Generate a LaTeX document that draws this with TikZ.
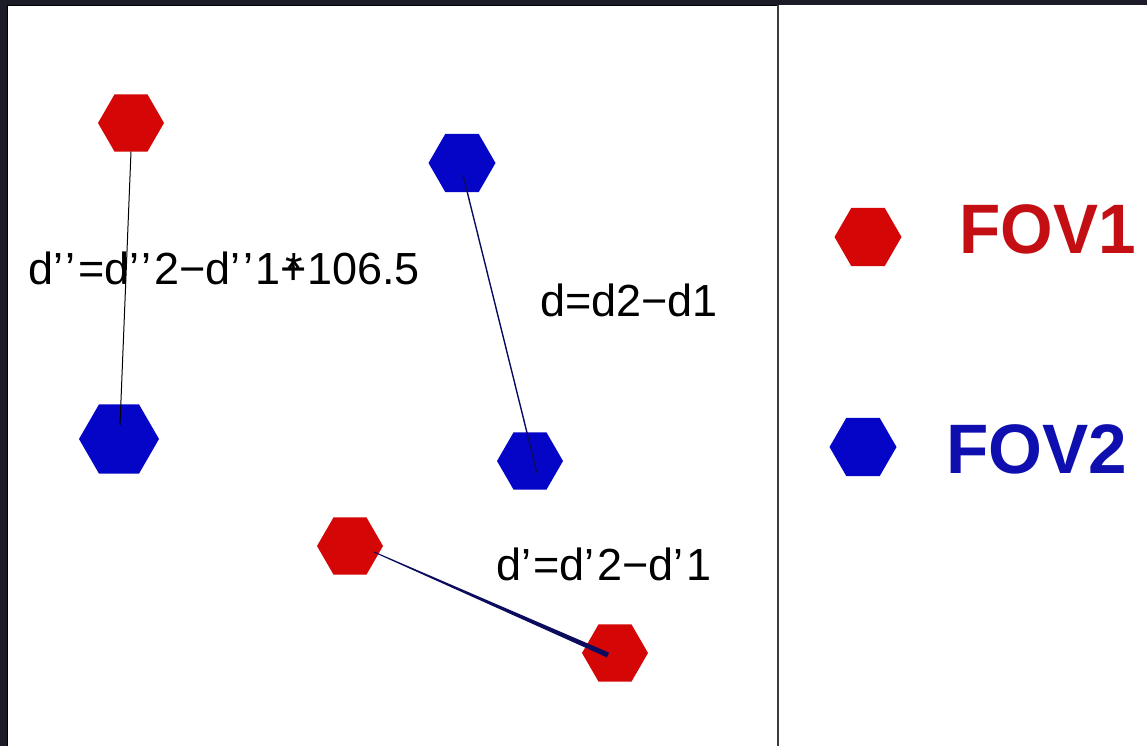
\documentclass[tikz,border=0pt]{standalone}
\usepackage{fontspec}
\setmainfont{Liberation Sans}
\usetikzlibrary{shapes.geometric}
\definecolor{bgdark}{RGB}{28,27,40}
\definecolor{hexred}{RGB}{212,6,6}
\definecolor{hexblue}{RGB}{5,5,200}
\definecolor{txtred}{RGB}{195,15,20}
\definecolor{txtblue}{RGB}{15,15,175}
\definecolor{navy}{RGB}{12,12,95}
\definecolor{divider}{RGB}{60,60,60}
\newcommand\qt{’\kern2.5pt}
\begin{document}
\begin{tikzpicture}[x=1pt,y=-1pt,
  hexa/.style={regular polygon, regular polygon sides=6, minimum size=#1, inner sep=0pt, outer sep=0pt, draw=none},
  redhex/.style={hexa=#1, fill=hexred},
  bluehex/.style={hexa=#1, fill=hexblue},
  lbl/.style={anchor=base west, inner sep=0pt, font=\fontsize{45}{50}\selectfont},
  legendtxt/.style={anchor=base west, inner sep=0pt, font=\bfseries\fontsize{70}{80}\selectfont},
  thinlink/.style={line width=1pt, black},
  navylink/.style={line width=1.4pt, navy}]
\useasboundingbox (0,0) rectangle (1147,746);
% background and panels
\fill[bgdark] (0,0) rectangle (1147,746);
\fill[white] (8,6) rectangle (777,746);
\draw[black, line width=1.5pt] (7.25,746) -- (7.25,5.75) -- (777,5.75);
\fill[white] (779,5) rectangle (1147,746);
\draw[divider, line width=2pt] (778,5) -- (778,746);
% hexagons
\node[redhex=66]  (R1) at (131,123) {};
\node[bluehex=80] (B1) at (119,439) {};
\node[bluehex=67] (B2) at (462,163) {};
\node[bluehex=66] (B3) at (530,461) {};
\node[redhex=66]  (R2) at (350,546) {};
\node[redhex=66]  (R3) at (615,653) {};
% connector end points
\coordinate (e1) at (120,425);
\coordinate (c2a) at (463,175);
\coordinate (c2b) at (537,473);
\coordinate (c3a) at (374,552);
\coordinate (c3b) at (608,655);
% connectors
\draw[thinlink] (R1.south) -- (e1);
\draw[navylink] (c2a) -- (c2b);
\fill[navy] (373.8,552.46) -- (606.96,657.37) -- (609.04,652.63) -- (374.2,551.54) -- cycle;
% labels
\node[lbl] (t1) at (28,284) {d\qt\qt=d\qt\qt2−d\qt\qt1\makebox[0pt][l]{\hspace{0.1em}*}+106.5};
\node[lbl] (t2) at (540,316) {d=d2−d1};
\node[lbl] (t3) at (496,580) {d\qt=d\qt2−d\qt1};
% legend
\node[redhex=67]  (L1) at (868,237) {};
\node[bluehex=67] (L2) at (863,447) {};
\node[legendtxt, text=txtred]  (F1) at (959,253) {\scalebox{0.965}[1]{FOV1}};
\node[legendtxt, text=txtblue] (F2) at (946,473) {\scalebox{0.99}[1]{FOV2}};
\end{tikzpicture}
\end{document}
